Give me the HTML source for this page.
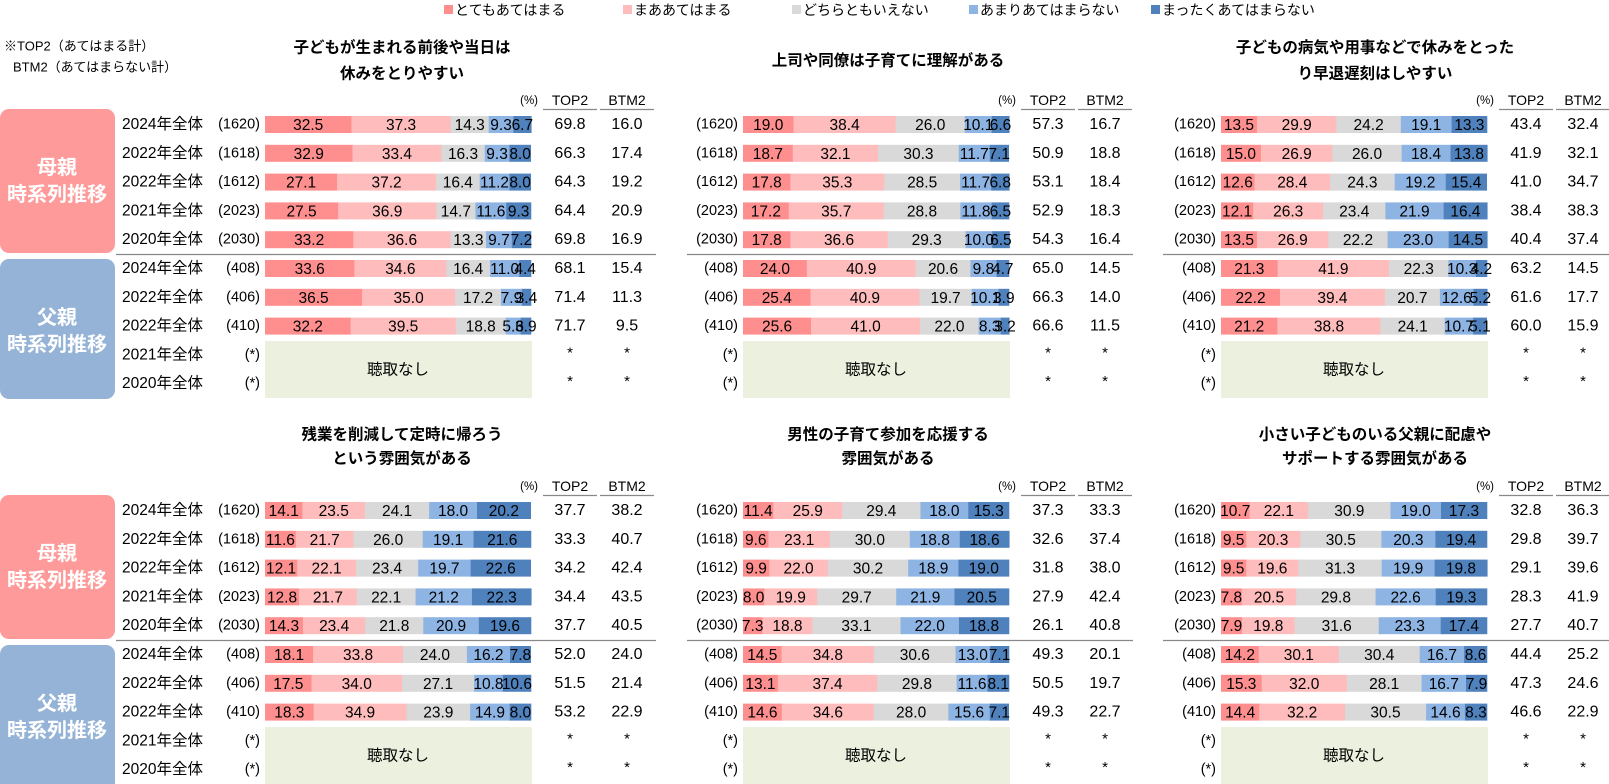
<!DOCTYPE html>
<html><head><meta charset="utf-8">
<style>
html,body{margin:0;padding:0;background:#fff;}
svg{display:block;font-family:"Liberation Sans","Noto Sans CJK JP",sans-serif;}
</style></head>
<body>
<svg id="s" width="1609" height="784" viewBox="0 0 1609 784" xmlns="http://www.w3.org/2000/svg"></svg>
<script>
const S=document.getElementById('s');
let h='';
const C=['#ff8f8f','#ffbcbc','#d9d9d9','#8eb4e3','#4f81bd'];
function t(x,y,s,o){o=o||{};h+=`<text x="${x}" y="${y}" font-size="${o.fs||13.5}" text-anchor="${o.a||'start'}" fill="${o.f||'#000'}" ${o.b?'font-weight="bold"':''} dominant-baseline="central">${s}</text>`;}
function r(x,y,w,hh,f,rx){h+=`<rect x="${x}" y="${y}" width="${w}" height="${hh}" fill="${f}" ${rx?`rx="${rx}"`:''}/>`;}
const L=['とてもあてはまる','まああてはまる','どちらともいえない','あまりあてはまらない','まったくあてはまらない'];
const LX=[444,623,792,969,1151];
L.forEach((s,i)=>{r(LX[i],5,9,9,C[i]);t(LX[i]+11,10,s,{fs:14});});
t(4,46,'※TOP2（あてはまる計）',{fs:13});
t(13,67,'BTM2（あてはまらない計）',{fs:13});
const P=[
{tt:['子どもが生まれる前後や当日は','休みをとりやすい'],cx:402,d:[[32.5,37.3,14.3,9.3,6.7,'69.8','16.0'],[32.9,33.4,16.3,9.3,8.0,'66.3','17.4'],[27.1,37.2,16.4,11.2,8.0,'64.3','19.2'],[27.5,36.9,14.7,11.6,9.3,'64.4','20.9'],[33.2,36.6,13.3,9.7,7.2,'69.8','16.9'],[33.6,34.6,16.4,11.0,4.4,'68.1','15.4'],[36.5,35.0,17.2,7.9,3.4,'71.4','11.3'],[32.2,39.5,18.8,5.6,3.9,'71.7','9.5']]},
{tt:['上司や同僚は子育てに理解がある'],cx:888,d:[[19.0,38.4,26.0,10.1,6.6,'57.3','16.7'],[18.7,32.1,30.3,11.7,7.1,'50.9','18.8'],[17.8,35.3,28.5,11.7,6.8,'53.1','18.4'],[17.2,35.7,28.8,11.8,6.5,'52.9','18.3'],[17.8,36.6,29.3,10.0,6.5,'54.3','16.4'],[24.0,40.9,20.6,9.8,4.7,'65.0','14.5'],[25.4,40.9,19.7,10.1,3.9,'66.3','14.0'],[25.6,41.0,22.0,8.3,3.2,'66.6','11.5']]},
{tt:['子どもの病気や用事などで休みをとった','り早退遅刻はしやすい'],cx:1375,d:[[13.5,29.9,24.2,19.1,13.3,'43.4','32.4'],[15.0,26.9,26.0,18.4,13.8,'41.9','32.1'],[12.6,28.4,24.3,19.2,15.4,'41.0','34.7'],[12.1,26.3,23.4,21.9,16.4,'38.4','38.3'],[13.5,26.9,22.2,23.0,14.5,'40.4','37.4'],[21.3,41.9,22.3,10.3,4.2,'63.2','14.5'],[22.2,39.4,20.7,12.6,5.2,'61.6','17.7'],[21.2,38.8,24.1,10.7,5.1,'60.0','15.9']]},
{tt:['残業を削減して定時に帰ろう','という雰囲気がある'],cx:402,d:[[14.1,23.5,24.1,18.0,20.2,'37.7','38.2'],[11.6,21.7,26.0,19.1,21.6,'33.3','40.7'],[12.1,22.1,23.4,19.7,22.6,'34.2','42.4'],[12.8,21.7,22.1,21.2,22.3,'34.4','43.5'],[14.3,23.4,21.8,20.9,19.6,'37.7','40.5'],[18.1,33.8,24.0,16.2,7.8,'52.0','24.0'],[17.5,34.0,27.1,10.8,10.6,'51.5','21.4'],[18.3,34.9,23.9,14.9,8.0,'53.2','22.9']]},
{tt:['男性の子育て参加を応援する','雰囲気がある'],cx:888,d:[[11.4,25.9,29.4,18.0,15.3,'37.3','33.3'],[9.6,23.1,30.0,18.8,18.6,'32.6','37.4'],[9.9,22.0,30.2,18.9,19.0,'31.8','38.0'],[8.0,19.9,29.7,21.9,20.5,'27.9','42.4'],[7.3,18.8,33.1,22.0,18.8,'26.1','40.8'],[14.5,34.8,30.6,13.0,7.1,'49.3','20.1'],[13.1,37.4,29.8,11.6,8.1,'50.5','19.7'],[14.6,34.6,28.0,15.6,7.1,'49.3','22.7']]},
{tt:['小さい子どものいる父親に配慮や','サポートする雰囲気がある'],cx:1375,d:[[10.7,22.1,30.9,19.0,17.3,'32.8','36.3'],[9.5,20.3,30.5,20.3,19.4,'29.8','39.7'],[9.5,19.6,31.3,19.9,19.8,'29.1','39.6'],[7.8,20.5,29.8,22.6,19.3,'28.3','41.9'],[7.9,19.8,31.6,23.3,17.4,'27.7','40.7'],[14.2,30.1,30.4,16.7,8.6,'44.4','25.2'],[15.3,32.0,28.1,16.7,7.9,'47.3','24.6'],[14.4,32.2,30.5,14.6,8.3,'46.6','22.9']]}
];
const NS=['(1620)','(1618)','(1612)','(2023)','(2030)','(408)','(406)','(410)','(*)','(*)'];
const YS=['2024年全体','2022年全体','2022年全体','2021年全体','2020年全体','2024年全体','2022年全体','2022年全体','2021年全体','2020年全体'];
for(let sec=0;sec<2;sec++){
  const oy=sec*386;
  r(0,109+oy,115,144,'#ff9a9a',9);
  r(0,259+oy,115,140+(sec?10:0),'#95b3d7',9);
  t(57,168+oy,'母親',{fs:20,a:'middle',f:'#fff',b:1});
  t(57,195+oy,'時系列推移',{fs:20,a:'middle',f:'#fff',b:1});
  t(57,318+oy,'父親',{fs:20,a:'middle',f:'#fff',b:1});
  t(57,345+oy,'時系列推移',{fs:20,a:'middle',f:'#fff',b:1});
  for(let p=0;p<3;p++){
    const ox=[0,478,956][p];
    const pd=P[sec*3+p];
    const ty=sec?[435,459]:[48,74];
    if(pd.tt.length==1) t(pd.cx,61+oy,pd.tt[0],{fs:15.5,a:'middle',b:1});
    else pd.tt.forEach((s,i)=>t(pd.cx,ty[i],s,{fs:15.5,a:'middle',b:1}));
    t(538+ox,101+oy,'(%)',{fs:11.5,a:'end'});
    t(570+ox,100+oy,'TOP2',{fs:14,a:'middle'});
    t(627+ox,100+oy,'BTM2',{fs:14,a:'middle'});
    h+=`<line x1="${543+ox}" y1="${109.5+oy}" x2="${597+ox}" y2="${109.5+oy}" stroke="#888" stroke-width="1.3"/>`;
    h+=`<line x1="${600+ox}" y1="${109.5+oy}" x2="${654+ox}" y2="${109.5+oy}" stroke="#888" stroke-width="1.3"/>`;
    const lx1=p==0?116:(p==1?687:1163), lx2=p==0?656:(p==1?1133:1609);
    h+=`<line x1="${lx1}" y1="${254.5+oy}" x2="${lx2}" y2="${254.5+oy}" stroke="#888" stroke-width="1.3"/>`;
    for(let i=0;i<10;i++){
      const y=(i<5?116+i*28.8:260+(i-5)*28.8)+oy;
      const cy=y+8.5;
      if(p==0) t(122,cy,YS[i],{fs:15.5});
      t(260+ox,cy,NS[i],{fs:14.5,a:'end'});
      if(i<8){
        const d=pd.d[i];let x=265+ox;
        for(let k=0;k<5;k++){const w=d[k]*2.66;r(x,y,w+0.3,17,C[k]);x+=w;}
        x=265+ox;
        for(let k=0;k<5;k++){const w=d[k]*2.66;t(x+w/2,cy+1,d[k].toFixed(1),{fs:15.5,a:'middle'});x+=w;}
        t(570+ox,cy,d[5],{fs:16,a:'middle'});
        t(627+ox,cy,d[6],{fs:16,a:'middle'});
      } else {
        t(570+ox,cy-2,'*',{fs:15,a:'middle'});
        t(627+ox,cy-2,'*',{fs:15,a:'middle'});
      }
    }
    const by=341+oy;
    r(265+ox,by,267,57+(sec?2:0),'#ebf1de');
    t(398+ox,by+29,'聴取なし',{fs:15.5,a:'middle'});
  }
}
S.innerHTML=h;
</script>
</body></html>
